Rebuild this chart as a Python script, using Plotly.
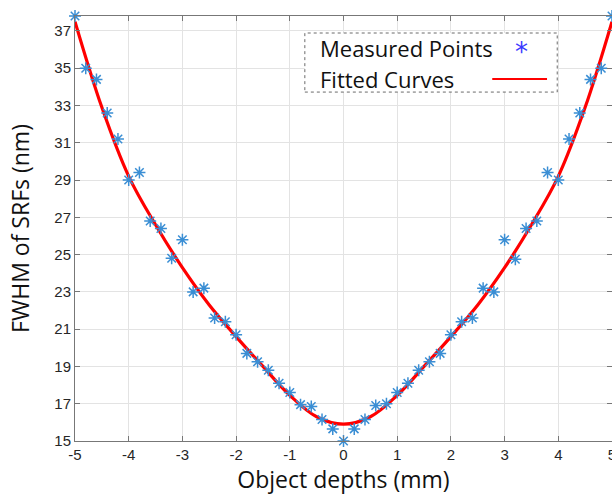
import plotly.graph_objects as go

# Measured points (object depth in mm, FWHM in nm)
depths = [-5.0, -4.8, -4.6, -4.4, -4.2, -4.0, -3.8, -3.6, -3.4, -3.2, -3.0,
          -2.8, -2.6, -2.4, -2.2, -2.0, -1.8, -1.6, -1.4, -1.2, -1.0,
          -0.8, -0.6, -0.4, -0.2, 0.0, 0.2, 0.4, 0.6, 0.8, 1.0,
          1.2, 1.4, 1.6, 1.8, 2.0, 2.2, 2.4, 2.6, 2.8, 3.0,
          3.2, 3.4, 3.6, 3.8, 4.0, 4.2, 4.4, 4.6, 4.8, 5.0]
fwhm = [37.8, 35.0, 34.4, 32.6, 31.2, 29.0, 29.4, 26.8, 26.4, 24.8, 25.8,
        23.0, 23.2, 21.6, 21.4, 20.7, 19.7, 19.25, 18.8, 18.1, 17.6,
        16.95, 16.85, 16.15, 15.65, 15.0, 15.65, 16.15, 16.9, 17.0, 17.6,
        18.1, 18.8, 19.25, 19.7, 20.7, 21.4, 21.6, 23.2, 23.0, 25.8,
        24.75, 26.4, 26.8, 29.4, 29.0, 31.2, 32.6, 34.4, 35.0, 37.8]

# Fitted curve
fit_x = [-5.0, -4.5, -4.0, -3.5, -3.0, -2.5, -2.0, -1.5, -1.0, -0.5, 0.0,
         0.5, 1.0, 1.5, 2.0, 2.5, 3.0, 3.5, 4.0, 4.5, 5.0]
fit_y = [37.5, 32.9, 29.2, 26.6, 24.3, 22.3, 20.6, 19.0, 17.45, 16.3, 15.9,
         16.3, 17.45, 19.0, 20.6, 22.3, 24.3, 26.6, 29.2, 32.9, 37.5]

x_ticks = [-5, -4, -3, -2, -1, 0, 1, 2, 3, 4, 5]
y_ticks = [15, 17, 19, 21, 23, 25, 27, 29, 31, 33, 35, 37]

fig = go.Figure()
fig.add_trace(go.Scatter(
    x=fit_x, y=fit_y, mode="lines", name="Fitted Curves",
    line=dict(color="#ff0000", width=3.2, shape="spline", smoothing=1.0),
    showlegend=False))
fig.add_trace(go.Scatter(
    x=depths, y=fwhm, mode="markers", name="Measured Points",
    marker=dict(symbol="asterisk-open", size=10, color="#3a8ed4",
                line=dict(color="#3a8ed4", width=1.5)),
    showlegend=False, cliponaxis=False))

tick_font = dict(family="Liberation Sans, Arial, sans-serif", size=15, color="#262626")
title_font = dict(family="Open Sans, sans-serif", size=23, color="#111111")
leg_font = dict(family="Open Sans, sans-serif", size=22, color="#111111")

# Legend drawn manually (symbols on the right, as in the reference)
fig.add_shape(type="rect", xref="paper", yref="paper",
              x0=0.428, x1=0.898, y0=0.821, y1=0.960,
              line=dict(color="#6a6a6a", width=1, dash="dot"),
              fillcolor="white", layer="above")
fig.add_annotation(x=0.4525, y=0.925, xref="paper", yref="paper",
                   text="Measured Points", showarrow=False,
                   xanchor="left", yanchor="middle", font=leg_font)
fig.add_annotation(x=0.4525, y=0.852, xref="paper", yref="paper",
                   text="Fitted Curves", showarrow=False,
                   xanchor="left", yanchor="middle", font=leg_font)
fig.add_annotation(x=0.832, y=0.916, xref="paper", yref="paper",
                   text="*", showarrow=False,
                   xanchor="center", yanchor="middle",
                   font=dict(family="DejaVu Sans", size=26, color="#3a3aff"))
fig.add_shape(type="line", xref="paper", yref="paper",
              x0=0.777, x1=0.879, y0=0.852, y1=0.852,
              line=dict(color="#ff0000", width=2), layer="above")

fig.update_layout(
    width=612, height=497,
    margin=dict(l=75, r=0, t=16, b=56),
    paper_bgcolor="white", plot_bgcolor="white",
    showlegend=False,
    xaxis=dict(range=[-5, 5], tickvals=x_ticks, ticktext=[str(v) for v in x_ticks],
               automargin=False, ticklabeloverflow="allow",
               showgrid=True, gridcolor="#e3e3e3", gridwidth=1,
               zeroline=False, showline=True, linecolor="#777777", linewidth=1,
               mirror="ticks", ticks="inside", ticklen=5, tickcolor="#777777",
               tickfont=tick_font,
               title=dict(text="Object depths (mm)", font=title_font, standoff=4)),
    yaxis=dict(range=[15, 37.8], tickvals=y_ticks, ticktext=[str(v) for v in y_ticks],
               automargin=False,
               showgrid=True, gridcolor="#e3e3e3", gridwidth=1,
               zeroline=False, showline=True, linecolor="#777777", linewidth=1,
               mirror="ticks", ticks="inside", ticklen=5, tickcolor="#777777",
               tickfont=tick_font,
               title=dict(text="FWHM of SRFs (nm)", font=title_font, standoff=18)),
)

# Remove the default page margin and scrollbars so the figure fills the window.
fig.write_html(
    "out.html",
    config={"displayModeBar": False},
    post_script="document.body.style.margin='0';"
                "document.documentElement.style.overflow='hidden';"
                "document.body.style.overflow='hidden';",
)
